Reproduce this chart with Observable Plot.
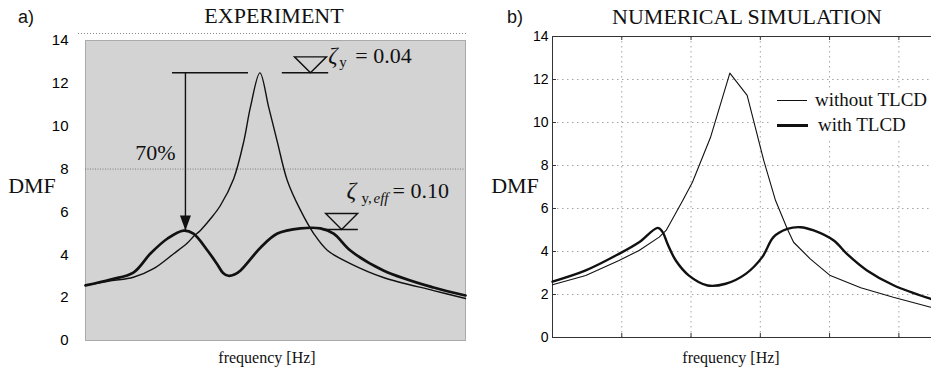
<!DOCTYPE html>
<html>
<head>
<meta charset="utf-8">
<script src="https://cdn.jsdelivr.net/npm/d3@7"></script>
<script src="https://cdn.jsdelivr.net/npm/@observablehq/plot@0.6"></script>
<style>
  html, body { margin: 0; padding: 0; background: #fff; overflow: hidden; }
  #wrap { position: relative; width: 931px; height: 372px; overflow: hidden; background: #fff; }
  .abs { position: absolute; white-space: nowrap; line-height: 1; color: #111; }
  .serif { font-family: "Liberation Serif", "Times New Roman", serif; }
  .sans { font-family: "Liberation Sans", Arial, sans-serif; }
</style>
</head>
<body>
<div id="wrap"></div>
<script>
// ---------------- data ----------------
const panelTags = ["a)", "b)"];
const titles = ["EXPERIMENT", "NUMERICAL SIMULATION"];
const yLabel = "DMF";
const xLabel = "frequency [Hz]";
const yTicks = [0, 2, 4, 6, 8, 10, 12, 14];
const legendLabels = ["without TLCD", "with TLCD"];

// a) experiment (frequency in relative units 0..100)
const expFreqNo = [0, 6.6, 12.6, 17.9, 23.2, 26.8, 28.4, 30.3, 32.9, 35.5, 39.0, 41.7, 43.4, 45.9, 48.2, 50.4, 53.1, 56.6, 60.1, 63.7, 69.7, 78.4, 91.6, 100];
const expDmfNo  = [2.57, 2.78, 2.95, 3.35, 4.05, 4.55, 4.85, 5.15, 5.68, 6.3, 7.55, 9.33, 10.89, 12.49, 10.89, 9.33, 7.47, 6.07, 4.98, 4.2, 3.59, 2.94, 2.33, 1.96];
const expFreqWith = [0, 6.6, 12.6, 17.1, 21.6, 25.8, 28.4, 32.1, 34.7, 36.2, 37.6, 39.2, 40.8, 46.1, 50.5, 56.6, 61.8, 65.3, 69.7, 78.4, 91.6, 100];
const expDmfWith  = [2.57, 2.85, 3.17, 4.06, 4.76, 5.13, 4.99, 4.2, 3.55, 3.15, 3.02, 3.08, 3.27, 4.34, 4.99, 5.23, 5.23, 4.99, 4.2, 3.27, 2.47, 2.1];
const expGrid = [8];

// b) numerical simulation (frequency in grid units)
const simFreqNo = [0, 0.48, 0.96, 1.25, 1.54, 1.64, 1.88, 2.02, 2.28, 2.56, 2.81, 3.05, 3.22, 3.39, 3.48, 3.72, 4.01, 4.45, 4.92, 5.46, 5.5];
const simDmfNo  = [2.45, 2.88, 3.58, 4.05, 4.67, 4.98, 6.37, 7.22, 9.3, 12.3, 11.26, 8.23, 6.37, 5.05, 4.43, 3.66, 2.88, 2.31, 1.87, 1.41, 1.39];
const simFreqWith = [0, 0.48, 0.96, 1.25, 1.52, 1.59, 1.66, 1.78, 1.97, 2.24, 2.5, 2.79, 3.03, 3.19, 3.39, 3.58, 3.77, 4.06, 4.25, 4.54, 4.93, 5.46, 5.5];
const simDmfWith  = [2.6, 3.12, 3.89, 4.43, 5.1, 4.9, 4.36, 3.58, 2.88, 2.42, 2.5, 2.96, 3.75, 4.67, 5.05, 5.13, 4.98, 4.51, 3.89, 3.12, 2.42, 1.8, 1.76];
const simGridX = [1, 2, 3, 4, 5];
const simGridY = [2, 4, 6, 8, 10, 12];

// annotations of panel a)
const levelLines = [
  {v: 12.49, u1: 22.9, u2: 42.9},
  {v: 12.49, u1: 51.8, u2: 64.0},
  {v: 5.18, u1: 62.6, u2: 71.8}
];
const waterMarks = [{u: 59.2, v: 12.49}, {u: 67.4, v: 5.18}];
const reduction = [{u: 26.3, from: 12.49, to: 5.13}];
const reductionLabel = [{u: 18.4, v: 8.73, text: "70%"}];
const zeta1 = [{u: 63.9, v: 12.93, sub: "y", value: "= 0.04"}];
const zeta2 = [{u: 67.9, v: 6.63, sub: "y,", eff: "eff", value: "= 0.10"}];

// ---------------- drawing ----------------
const serif = "Liberation Serif, Times New Roman, serif";
const sans = "Liberation Sans, Arial, sans-serif";
const ink = "#111";
const rows = (xs, ys) => xs.map((x, i) => ({x, y: ys[i]}));

const waterSym = {draw(ctx) { ctx.moveTo(-16, -16); ctx.lineTo(16, -16); ctx.lineTo(0, 0); ctx.closePath(); }};
const arrowSym = {draw(ctx) { ctx.moveTo(-5.5, -15); ctx.lineTo(5.5, -15); ctx.lineTo(0, 0); ctx.closePath(); }};

const wrap = document.getElementById("wrap");

function place(text, x, baseline, size, cls, center, extra) {
  const d = document.createElement("div");
  d.className = "abs " + cls;
  d.textContent = text;
  d.style.fontSize = size + "px";
  d.style.left = x + "px";
  d.style.top = (baseline - 0.84 * size) + "px";
  if (center) d.style.transform = "translateX(-50%)";
  if (extra) Object.assign(d.style, extra);
  wrap.appendChild(d);
  return d;
}

const txt = {fontFamily: serif, fill: ink, textAnchor: "start", lineAnchor: "bottom"};

// ---- panel a)
const chartA = Plot.plot({
  width: 470, height: 372,
  marginLeft: 85, marginRight: 5, marginTop: 40, marginBottom: 32,
  style: {fontFamily: sans, fontSize: "15px", color: "#000", background: "transparent", maxWidth: "none"},
  x: {domain: [0, 100], axis: null},
  y: {domain: [0, 14], ticks: yTicks, tickSize: 0, tickPadding: 17, label: null},
  marks: [
    Plot.frame({fill: "#d3d3d3", stroke: "#6a6a6a", strokeDasharray: "1,1"}),
    Plot.ruleY([14], {dy: -7, insetLeft: -7, insetRight: -2, stroke: "#8a8a8a", strokeDasharray: "1,2"}),
    Plot.ruleY(expGrid, {stroke: "#7a7a7a", strokeDasharray: "1,1.5"}),
    Plot.line(rows(expFreqNo, expDmfNo), {x: "x", y: "y", curve: "catmull-rom", stroke: ink, strokeWidth: 1.4}),
    Plot.line(rows(expFreqWith, expDmfWith), {x: "x", y: "y", curve: "catmull-rom", stroke: ink, strokeWidth: 2.7}),
    Plot.ruleY(levelLines, {y: "v", x1: "u1", x2: "u2", stroke: ink, strokeWidth: 1.5}),
    Plot.dot(waterMarks, {x: "u", y: "v", symbol: waterSym, r: 5, fill: "none", stroke: ink, strokeWidth: 1.4}),
    Plot.ruleX(reduction, {x: "u", y1: "from", y2: "to", stroke: ink, strokeWidth: 1.4}),
    Plot.dot(reduction, {x: "u", y: "to", symbol: arrowSym, r: 5, fill: ink, stroke: "none"}),
    Plot.text(reductionLabel, {x: "u", y: "v", text: "text", fontFamily: serif, fontSize: 22, fill: ink, textAnchor: "middle", lineAnchor: "middle"}),
    Plot.text(zeta1, {...txt, x: "u", y: "v", text: () => "ζ", fontStyle: "italic", fontSize: 23}),
    Plot.text(zeta1, {...txt, x: "u", y: "v", text: "sub", dx: 11, dy: 4, fontSize: 15}),
    Plot.text(zeta1, {...txt, x: "u", y: "v", text: "value", dx: 27, fontSize: 22}),
    Plot.text(zeta2, {...txt, x: "u", y: "v", text: () => "ζ", dx: 3, fontStyle: "italic", fontSize: 24}),
    Plot.text(zeta2, {...txt, x: "u", y: "v", text: "sub", dx: 18, dy: 5, fontSize: 15}),
    Plot.text(zeta2, {...txt, x: "u", y: "v", text: "eff", dx: 30, dy: 5, fontStyle: "italic", fontSize: 15}),
    Plot.text(zeta2, {...txt, x: "u", y: "v", text: "value", dx: 49, fontSize: 22})
  ]
});
const boxA = document.createElement("div");
boxA.style.cssText = "position:absolute;left:0;top:0;width:470px;height:372px;";
boxA.appendChild(chartA);
wrap.appendChild(boxA);

// ---- panel b)
const innerHB = 372 - 36 - 35, innerWB = 463 - 82;
const chartB = Plot.plot({
  width: 463, height: 372,
  marginLeft: 82, marginRight: 0, marginTop: 36, marginBottom: 35,
  style: {fontFamily: sans, fontSize: "14px", color: "#000", background: "transparent", maxWidth: "none"},
  x: {domain: [0, 5.5], axis: null},
  y: {domain: [0, 14], ticks: yTicks, tickSize: 0, tickPadding: 4, label: null},
  marks: [
    Plot.ruleX(simGridX, {x: d => d, stroke: "#9a9a9a", strokeWidth: 0.9, strokeDasharray: "1.5,3.5"}),
    Plot.ruleY(simGridY, {y: d => d, stroke: "#9a9a9a", strokeWidth: 0.9, strokeDasharray: "1.5,3.5"}),
    Plot.tickX(simGridX, {x: d => d, insetTop: innerHB - 4, stroke: "#333"}),
    Plot.tickX(simGridX, {x: d => d, insetBottom: innerHB - 4, stroke: "#333"}),
    Plot.tickY(simGridY, {y: d => d, insetRight: innerWB - 4, stroke: "#333"}),
    Plot.frame({stroke: "#333", strokeWidth: 1}),
    Plot.line(rows(simFreqNo, simDmfNo), {x: "x", y: "y", stroke: ink, strokeWidth: 1.1}),
    Plot.line(rows(simFreqWith, simDmfWith), {x: "x", y: "y", curve: "catmull-rom", stroke: ink, strokeWidth: 2.4})
  ]
});
const boxB = document.createElement("div");
boxB.style.cssText = "position:absolute;left:470px;top:0;width:463px;height:372px;";
boxB.appendChild(chartB);
wrap.appendChild(boxB);

// ---- legend of panel b)
const lg = document.createElement("div");
lg.style.cssText = "position:absolute;left:771px;top:88px;width:160px;height:50px;background:#fff;";
wrap.appendChild(lg);
const l1 = document.createElement("div");
l1.style.cssText = "position:absolute;left:777px;top:100px;width:30px;height:1.2px;background:#111;";
wrap.appendChild(l1);
const l2 = document.createElement("div");
l2.style.cssText = "position:absolute;left:777px;top:124px;width:31px;height:3.4px;background:#111;";
wrap.appendChild(l2);
place(legendLabels[0], 815, 106, 19, "serif", false);
place(legendLabels[1], 818, 131, 19, "serif", false);

// ---- titles, tags and axis labels
place(panelTags[0], 18, 23, 18, "sans", false);
place(panelTags[1], 507, 23, 18, "sans", false);
place(titles[0], 274, 23, 22, "serif", true);
place(titles[1], 747, 24, 22, "serif", true);
place(yLabel, 32, 193, 22, "serif", true);
place(yLabel, 515, 193, 22, "serif", true);
place(xLabel, 267, 363, 16, "serif", true);
place(xLabel, 731, 363, 16, "serif", true);
</script>
</body>
</html>
